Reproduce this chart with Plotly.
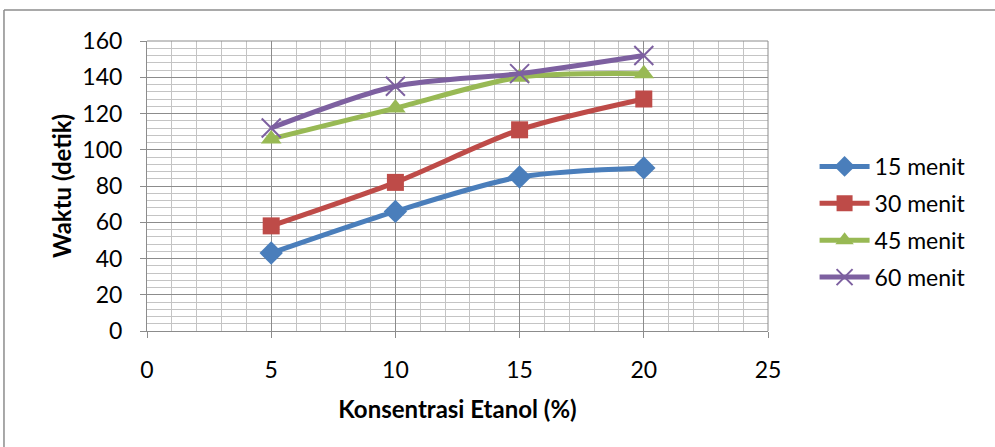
import plotly.graph_objects as go

konsentrasi = [5, 10, 15, 20]
menit_15 = [43, 66, 85, 90]
menit_30 = [58, 82, 111, 128]
menit_45 = [106, 123, 140, 142]
menit_60 = [112, 135, 142, 152]

series_names = ["15 menit", "30 menit", "45 menit", "60 menit"]
x_ticks = [0, 5, 10, 15, 20, 25]
y_ticks = [0, 20, 40, 60, 80, 100, 120, 140, 160]

FONT = "Lato"

styles = [
    dict(color="#4A7EBB", symbol="diamond", size=18, lw=0),
    dict(color="#BE4B48", symbol="square", size=17, lw=0),
    dict(color="#98B954", symbol="triangle-up", size=18, lw=0),
    dict(color="#7D60A0", symbol="x-thin-open", size=19, lw=2),
]

fig = go.Figure()
for name, vals, st in zip(series_names, [menit_15, menit_30, menit_45, menit_60], styles):
    fig.add_trace(go.Scatter(
        x=konsentrasi, y=vals, name=name, mode="lines+markers",
        line=dict(color=st["color"], width=5, shape="spline", smoothing=0.8),
        marker=dict(symbol=st["symbol"], size=st["size"], color=st["color"],
                    line=dict(width=st["lw"], color=st["color"])),
        legendgroup=name,
    ))

grid_major = "#8C8C8C"
grid_minor = "#C4C4C4"

fig.update_xaxes(
    range=[0, 25], tickvals=x_ticks, ticktext=[str(v) for v in x_ticks],
    showgrid=True, gridcolor=grid_major, gridwidth=1,
    minor=dict(dtick=1, showgrid=True, gridcolor=grid_minor, gridwidth=1),
    showline=True, linecolor=grid_major, linewidth=1,
    ticks="outside", ticklen=6, tickcolor=grid_major,
    tickfont=dict(family=FONT, size=23, color="#000"),
    ticklabelstandoff=12,
    title=dict(text="<b>Konsentrasi Etanol (%)</b>", font=dict(family=FONT, size=24, color="#000"), standoff=19),
    zeroline=False, mirror=False,
)
fig.update_yaxes(
    range=[0, 160], tickvals=y_ticks, ticktext=[str(v) for v in y_ticks],
    showgrid=True, gridcolor=grid_major, gridwidth=1,
    minor=dict(dtick=4, showgrid=True, gridcolor=grid_minor, gridwidth=1),
    showline=True, linecolor=grid_major, linewidth=1,
    ticks="outside", ticklen=6, tickcolor=grid_major,
    tickfont=dict(family=FONT, size=23, color="#000"),
    ticklabelstandoff=13,
    title=dict(text="<b>Waktu (detik)</b>", font=dict(family=FONT, size=24, color="#000"), standoff=3),
    zeroline=False,
)

# Right and top borders of plot area
fig.add_shape(type="line", xref="paper", yref="paper", x0=1, x1=1, y0=0, y1=1,
              line=dict(color=grid_major, width=1))
fig.add_shape(type="line", xref="paper", yref="paper", x0=0, x1=1, y0=1, y1=1,
              line=dict(color=grid_major, width=1))
# Outer chart border (top and left visible)
fig.add_shape(type="line", xref="paper", yref="paper", x0=-0.2303, x1=1.5, y0=1.1069, y1=1.1069,
              line=dict(color="#8C8C8C", width=1.5))
fig.add_shape(type="line", xref="paper", yref="paper", x0=-0.2303, x1=-0.2303, y0=-0.5, y1=1.1069,
              line=dict(color="#8C8C8C", width=1.5))

fig.update_layout(
    width=995, height=447,
    margin=dict(l=147, r=227, t=41, b=116, autoexpand=False),
    paper_bgcolor="white", plot_bgcolor="white",
    showlegend=True,
    legend=dict(x=1.075, y=0.376, xanchor="left", yanchor="middle",
                font=dict(family=FONT, size=23, color="#000"),
                traceorder="grouped", tracegroupgap=4,
                bgcolor="rgba(0,0,0,0)", itemwidth=50),
    font=dict(family=FONT),
)

fig.write_html("out.html")
